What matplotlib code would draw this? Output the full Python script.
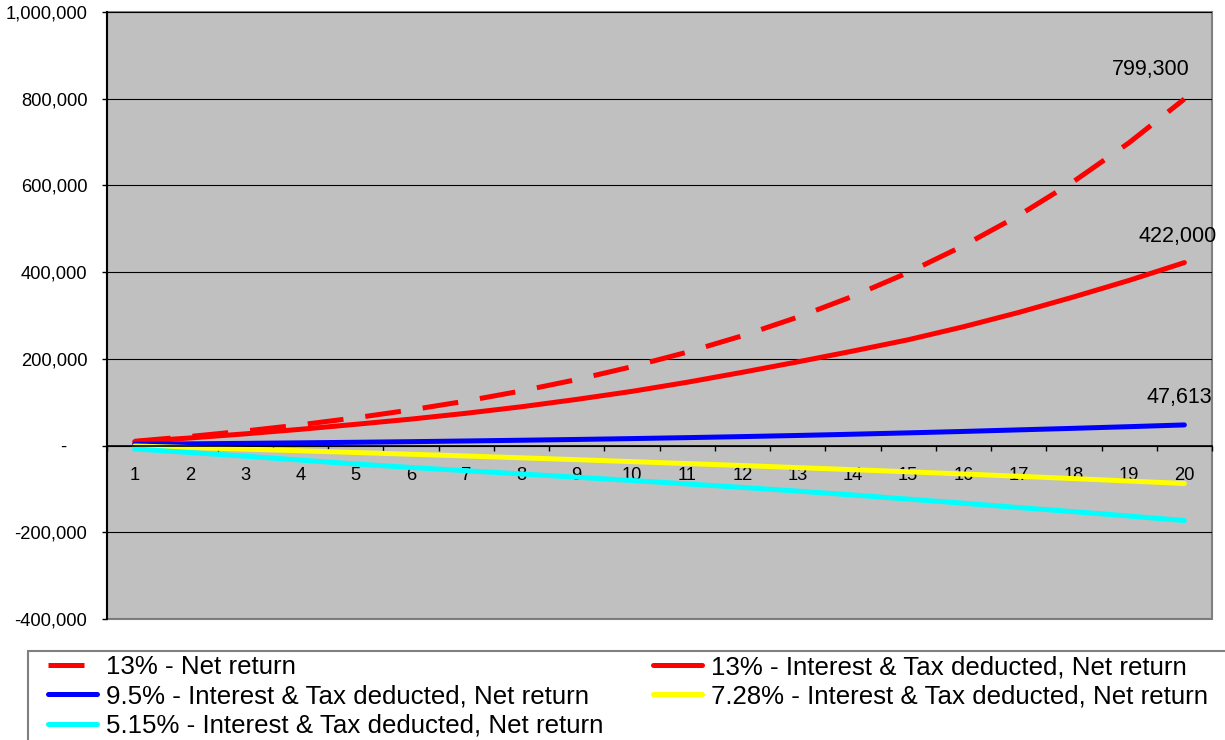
import numpy as np
import matplotlib
matplotlib.use("Agg")
import matplotlib.pyplot as plt
from matplotlib.patches import Rectangle
from matplotlib.ticker import FixedLocator, FuncFormatter, NullFormatter

plt.rcParams['font.family'] = ['Liberation Sans', 'DejaVu Sans']

years = list(range(1, 21))

net_13 = [9900, 21000, 33600, 47900, 64000, 82200, 102700, 126000, 152200, 181900,
          215400, 253300, 296100, 344400, 399100, 460900, 530600, 609500, 698600, 799300]
deducted_13 = [9000, 17500, 27000, 37500, 49000, 61000, 74500, 89500, 106500, 125000,
               146000, 169000, 193000, 218000, 244000, 274000, 307000, 343000, 381000, 422000]
deducted_95 = [3000, 4000, 5100, 6300, 7600, 9000, 10600, 12300, 14100, 16100,
               18300, 20700, 23300, 26200, 29300, 32600, 36200, 39800, 43600, 47613]
deducted_728 = [-1000, -4500, -8200, -12000, -16000, -20000, -24000, -28200, -32500, -37000,
                -41500, -46000, -50800, -55600, -60500, -65500, -70800, -76200, -81800, -87500]
deducted_515 = [-7700, -16000, -24500, -33500, -42500, -50500, -58000, -65500, -73000, -80500,
                -88500, -96500, -105000, -114000, -123500, -133000, -143000, -152500, -162500, -173000]

labels = ["13% - Net return",
          "13% - Interest & Tax deducted, Net return",
          "9.5% - Interest & Tax deducted, Net return",
          "7.28% - Interest & Tax deducted, Net return",
          "5.15% - Interest & Tax deducted, Net return"]

fig = plt.figure(figsize=(12.25, 7.4), dpi=100)
ax = fig.add_axes([107 / 1225, 1 - 619 / 740, (1212 - 107) / 1225, (619 - 12) / 740])
ax.set_facecolor('#C0C0C0')

lw = 3.6
l1, = ax.plot(years, net_13, color='#FF0000', lw=lw, dashes=(7.2, 4.4), dash_capstyle='butt')
l2, = ax.plot(years, deducted_13, color='#FF0000', lw=lw, solid_capstyle='round')
l3, = ax.plot(years, deducted_95, color='#0000FF', lw=lw, solid_capstyle='round')
l4, = ax.plot(years, deducted_728, color='#FFFF00', lw=lw, solid_capstyle='round')
l5, = ax.plot(years, deducted_515, color='#00FFFF', lw=lw, solid_capstyle='round')

# end-of-period value labels
for series, dx, dy in [(net_13, -24, 21.5), (deducted_13, -5, 19), (deducted_95, -4, 20)]:
    ax.annotate(f"{series[-1]:,.0f}", (years[-1], series[-1]), xytext=(dx, dy),
                textcoords='offset points', ha='center', va='center', fontsize=15.5)

ax.set_xlim(0.5, 20.5)
ax.set_ylim(-400000, 1000000)
ax.set_yticks(np.arange(-400000, 1000001, 200000))


def money(v, pos):
    if v == 0:
        return '-    '
    return f"{v:,.0f}"


ax.yaxis.set_major_formatter(FuncFormatter(money))
ax.yaxis.grid(True, color='black', lw=0.8)
ax.set_axisbelow(True)

# category axis sits at zero, ticks between categories, labels centred
ax.spines['bottom'].set_position(('data', 0))
ax.xaxis.set_major_locator(FixedLocator(np.arange(0.5, 21, 1)))
ax.xaxis.set_major_formatter(NullFormatter())
ax.xaxis.set_minor_locator(FixedLocator(years))
ax.xaxis.set_minor_formatter(FuncFormatter(lambda v, p: f"{int(v)}"))
ax.tick_params(axis='x', which='major', direction='out', length=3.6, width=1, color='black')
ax.tick_params(axis='x', which='minor', length=0, pad=15.5, labelsize=13.2)
ax.tick_params(axis='y', direction='out', length=3.6, width=1, pad=10.6, labelsize=13.2)
ax.spines['bottom'].set_color('black')
ax.spines['bottom'].set_linewidth(1.2)
ax.spines['left'].set_color('black')
ax.spines['left'].set_linewidth(1.5)
ax.spines['top'].set_visible(False)
ax.spines['right'].set_visible(False)
ax.add_patch(Rectangle((0, 0), 1, 1, transform=ax.transAxes, fill=False,
                       edgecolor='#808080', lw=1.5, clip_on=False, zorder=0.5))

# legend box runs off the page edge
fig.patches.append(Rectangle((28 / 1225, -0.2), 1.2, 0.2 + 1 - 651 / 740,
                             transform=fig.transFigure, fill=False,
                             edgecolor='#808080', lw=1.5))
fig.legend([l1, l3, l5, l2, l4], [labels[0], labels[2], labels[4], labels[1], labels[3]],
           ncol=2, loc='upper left', bbox_to_anchor=(48 / 1225, 1 - 655 / 740),
           frameon=False, fontsize=18.65, borderpad=0, borderaxespad=0,
           handlelength=1.9, handletextpad=0.34, columnspacing=1.9, labelspacing=0.21)

fig.savefig('out.png', dpi=100)
